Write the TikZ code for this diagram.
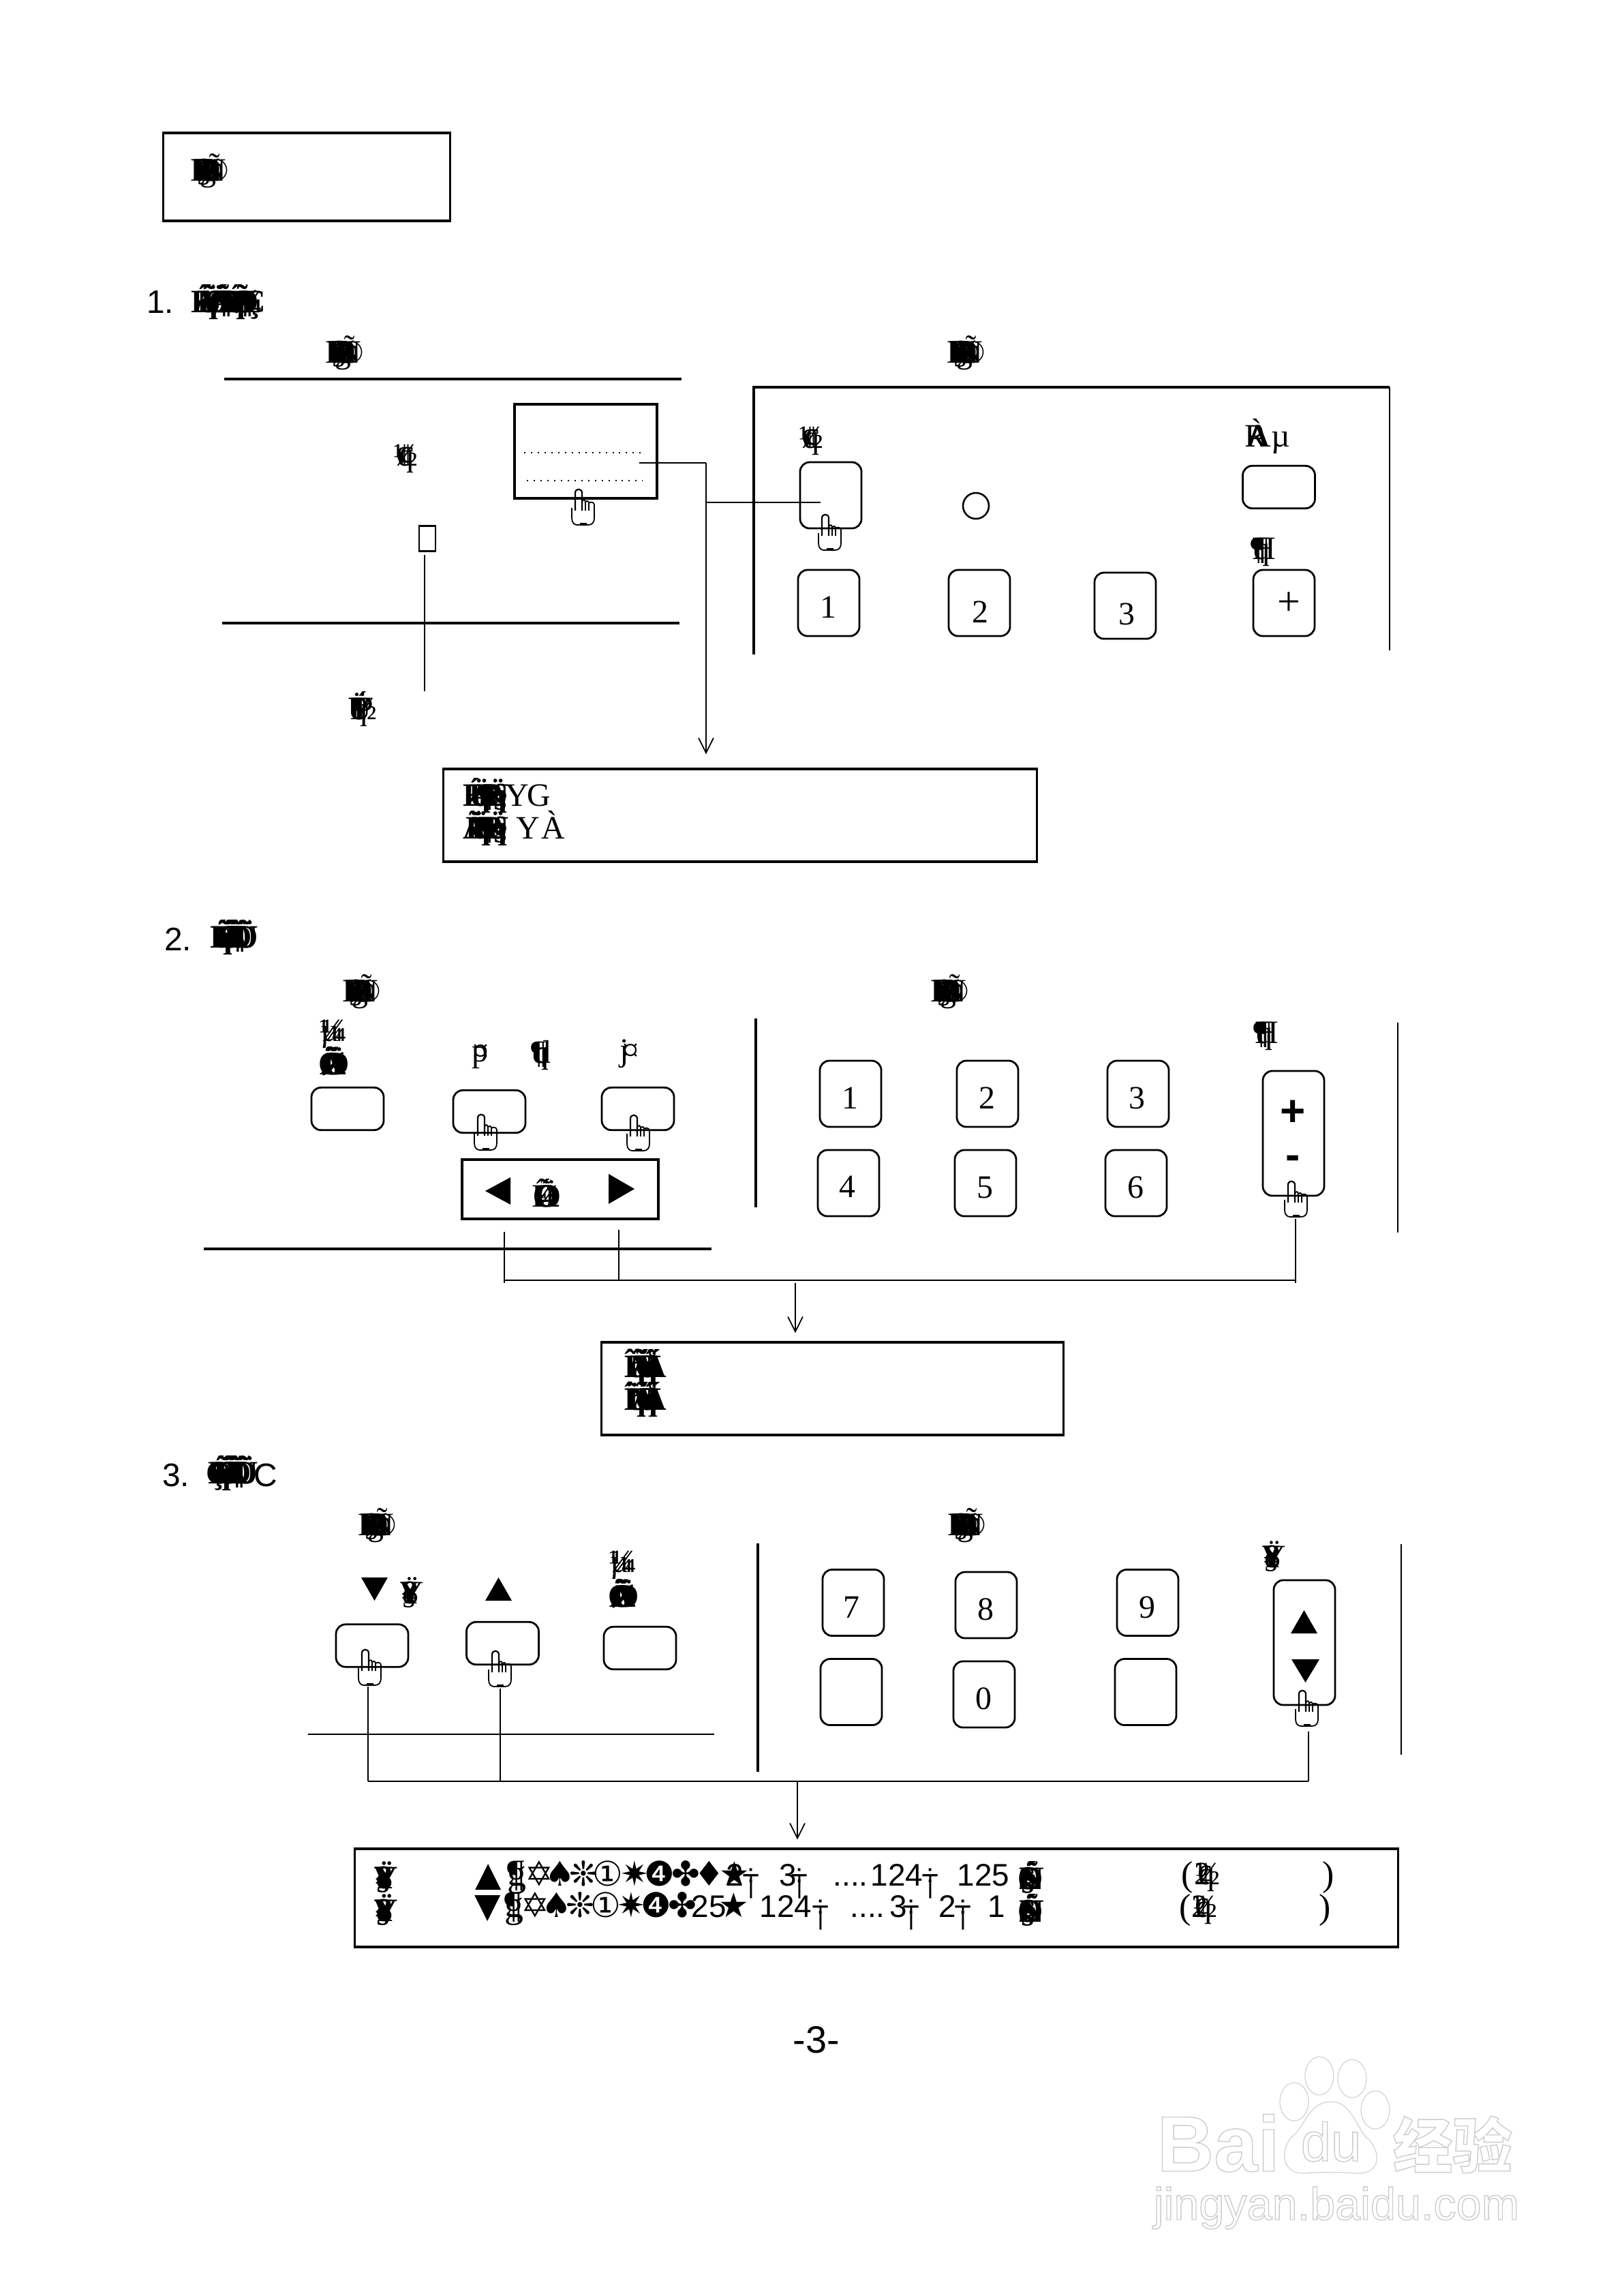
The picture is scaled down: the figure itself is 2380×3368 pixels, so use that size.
\documentclass[tikz,border=0pt]{standalone}
\usepackage{fontspec}
\setmainfont{Liberation Serif}
\setsansfont{Liberation Sans}
\newfontfamily\symfont{DejaVu Sans}
\newfontfamily\cjk{Noto Sans CJK SC}
\usetikzlibrary{arrows.meta,positioning}
\newcommand{\stack}[2]{\foreach \gl in {#2}{\makebox[0pt][l]{\gl}\kern#1}\kern 7pt}
\newcommand{\panelword}{\stack{.35pt}{E,B,R,P,D,¥,§,Ø,©,B,g,R,P,Ñ,©}}
\newcommand{\pairword}{\stack{.7pt}{½,¢,q,¢}}
\newcommand{\yenword}{\stack{.2pt}{Ÿ,¥,§,¥,8}}
\newcommand{\paraword}{\stack{.4pt}{¶,H,q,¶}}
\newcommand{\quarterword}{\stack{.6pt}{¼,µ,¼}}
\newcommand{\setword}{\stack{.3pt}{Õ,Ä,Ø,Ã,¼,½,Ö}}
\newcommand{\sepmark}{\makebox[0pt]{÷}\makebox[0pt]{\raisebox{-3pt}{\fontsize{9}{9}\selectfont|}}}
\newcommand{\fourdots}{....}
\newcommand{\outlined}[1]{\special{pdf:code q 1 Tr 0.35 w 0.8 G}#1\special{pdf:code Q}}

\begin{document}
\begin{tikzpicture}[x=0.0088235cm,y=-0.0088235cm,font=\fontsize{12}{14}\selectfont,
  line/.style={line width=0.85pt},
  thin line/.style={line width=0.5pt},
  conn/.style={line width=0.65pt},
  arr/.style={line width=0.45pt,-{Straight Barb[length=5.5pt,width=5.5pt]}},
  plainbox/.style={rectangle,draw,line width=0.8pt,inner sep=0pt},
  key/.style={rectangle,rounded corners=3.5pt,draw,line width=0.7pt,inner sep=0pt},
  numkey/.style={key,minimum width=0.794cm,minimum height=0.856cm},
  widekey/.style={key,minimum width=0.935cm,minimum height=0.55cm},
  rockkey/.style={key,minimum width=0.794cm,minimum height=1.615cm},
  word/.style={inner sep=0pt},
  blob/.style={inner sep=0pt,font=\fontsize{12}{14}\selectfont\bfseries},
  digit/.style={inner sep=0pt},
  sans/.style={inner sep=0pt,font=\fontsize{12}{14}\selectfont\sffamily},
  rowtext/.style={inner sep=0pt,anchor=base,font=\fontsize{11.5}{14}\selectfont\sffamily},
  rowsym/.style={inner sep=0pt,anchor=base,font=\fontsize{12.5}{14}\selectfont\symfont},
  tri/.style={fill=black},
  pics/hand/.style={code={
    \draw[line width=0.45pt] (-10,27)--(-10,42) .. controls (-10,49) and (-6,52) .. (-2,52)--(14,52)
      .. controls (20,52) and (23,48) .. (23,42)--(23,22);
    \draw[line width=0.55pt] (-5,31)--(-5,5) .. controls (-5,-2) and (5,-2) .. (5,5)--(5,31);
    \draw[line width=0.45pt] (5,18) .. controls (6,14) and (10,14) .. (10,19)--(10,31);
    \draw[line width=0.45pt] (10,19) .. controls (11,16) and (15,16) .. (15,20)--(15,31);
    \draw[line width=0.45pt] (15,20) .. controls (17,18) and (22,18) .. (23,22);
    \draw[line width=0.45pt] (2,50)--(12,50);
  }}]

  \useasboundingbox (0,0) rectangle (2380,3368);

  \node[plainbox,minimum width=3.706cm,minimum height=1.138cm] (titlebox) at (450,259.5) {};
  \node[word] (titleword) at (304,251) {\panelword};

  \node[sans] (numone) at (235,443) {1.};
  \node[blob,anchor=base] (headone) at (334,458) {\stack{1.1pt}{É,Á,Ñ,q,Ö,J,Ó,Ã,¶,B,B,É,q,Õ,Ø,¶,¼,Ç}};
  \node[word] (wordleft) at (502,518) {\panelword};
  \node[word] (wordright) at (1414,518) {\panelword};

  \draw[line] (329,556)--(1000,556);
  \draw[line] (326,914)--(997,914);
  \draw[line] (1106,960)--(1106,568)--(2039,568);
  \draw[conn] (2039,568)--(2039,954);

  \node[plainbox,minimum width=1.844cm,minimum height=1.218cm] (remote) at (859.5,662) {};
  \draw[line width=0.5pt,dotted] (769,664)--(940,664);
  \draw[line width=0.5pt,dotted] (773,705)--(943,705);
  \node[word] (pairleft) at (597,673) {\pairword};
  \node[plainbox,line width=0.6pt,minimum width=0.212cm,minimum height=0.326cm] (sensor) at (627,790) {};
  \coordinate (stemtop) at (623,814);
  \coordinate (stembot) at (623,1014);
  \draw[conn] (stemtop)--(stembot);
  \node[word] (wordlow) at (531,1040) {\stack{.4pt}{Ü,Ý,P,q,½,I,Ï,P}};

  \node[word] (pairright) at (1192,647) {\pairword};
  \node[numkey] (powerkey) at (1219,726.5) {};
  \node[circle,draw,line width=0.65pt,minimum size=0.335cm,inner sep=0pt] (lamp) at (1432,742) {};
  \node[widekey] (langkey) at (1876.5,714.5) {};
  \node[word] (langword) at (1860,640) {\stack{.4pt}{R,À,A}\kern 1.5pt µ};
  \node[word] (volword) at (1853,810) {\paraword};

  \node[numkey] (keyA) at (1216,884.5) {};
  \node[numkey] (keyB) at (1437,884.5) {};
  \node[numkey] (keyC) at (1651,888.5) {};
  \node[numkey] (keyD) at (1884,884.5) {};
  \node[digit] (digA) at (1215,891) {1};
  \node[digit] (digB) at (1438,898) {2};
  \node[digit] (digC) at (1653,901) {3};
  \node[digit,font=\fontsize{15}{15}\selectfont] (digD) at (1891,886) {+};

  \node[plainbox,minimum width=7.677cm,minimum height=1.2cm] (resultone) at (1086,1196) {};
  \node[blob,anchor=base] (resa) at (717,1182) {\stack{1.2pt}{É,Æ,Ü,q,¶,½,P,Ü,q,§}};
  \node[word,anchor=base] (resb) at (759,1182) {Y};
  \node[word,anchor=base] (resc) at (791,1182) {G};
  \node[blob,anchor=base] (resd) at (717,1230) {\stack{1.2pt}{Ã,Ë,Ä,q,¶,½,P,Ü,q,§}};
  \node[word,anchor=base] (rese) at (775,1230) {Y};
  \node[word,anchor=base] (resf) at (812,1230) {À};

  \coordinate (tapA) at (938,679);
  \coordinate (tapB) at (1036,679);
  \coordinate (tapC) at (1036,737);
  \coordinate (tapD) at (1204,737);
  \draw[conn] (tapA)--(tapB);
  \draw[conn] (tapC)--(tapD);
  \draw[arr,shorten >=5pt] (tapB)--(tapB |- resultone.north);

  \node[sans] (numtwo) at (261,1378) {2.};
  \node[blob,anchor=base] (headtwo) at (342,1390) {\stack{.75pt}{É,Ñ,q,Ó,Õ,Ä,J,Ã,Ö,¶,Ì,Õ,Ü}};
  \node[word] (wordsetl) at (527,1455) {\panelword};
  \node[word] (wordsetr) at (1390,1455) {\panelword};
  \node[word] (quartA) at (486,1517) {\quarterword};
  \node[blob] (setA) at (486,1557) {\setword};
  \node[word] (ptA) at (707,1550) {\stack{.2pt}{p,¤}};
  \node[word] (ptB) at (797,1548) {\stack{.6pt}{¶,q,d}};
  \node[word] (ptC) at (927,1546) {\stack{1pt}{j,¤}};
  \node[widekey] (keyset) at (510,1626.5) {};
  \node[widekey] (keyprev) at (718,1630.5) {};
  \node[widekey] (keynext) at (936,1626.5) {};

  \node[plainbox,minimum width=2.541cm,minimum height=0.768cm] (pagebar) at (822,1744.5) {};
  \fill[tri] (712,1747)--(749,1727)--(749,1767)--cycle;
  \fill[tri] (931,1744)--(893,1722)--(893,1766)--cycle;
  \node[word] (pageword) at (800,1750) {\stack{.5pt}{Ê,Ó,Õ,½,Ö,4}};

  \draw[line] (299,1832)--(1044,1832);
  \draw[line] (1109,1494)--(1109,1771);
  \draw[conn] (2051,1500)--(2051,1808);

  \node[numkey] (padA) at (1248,1604.5) {};
  \node[numkey] (padB) at (1449,1604.5) {};
  \node[numkey] (padC) at (1670,1604.5) {};
  \node[numkey] (padD) at (1245,1735.5) {};
  \node[numkey] (padE) at (1446,1735.5) {};
  \node[numkey] (padF) at (1667,1735.5) {};
  \node[digit] (padtA) at (1247,1611) {1};
  \node[digit] (padtB) at (1448,1611) {2};
  \node[digit] (padtC) at (1668,1611) {3};
  \node[digit] (padtD) at (1243,1741) {4};
  \node[digit] (padtE) at (1445,1742) {5};
  \node[digit] (padtF) at (1666,1742) {6};
  \node[word] (volsetr) at (1857,1520) {\paraword};
  \node[rockkey] (volrock) at (1898,1662.5) {};
  \node[digit,font=\fontsize{16}{16}\selectfont\bfseries\sffamily] (volplus) at (1897,1633) {+};
  \node[digit,font=\fontsize{16}{16}\selectfont\bfseries\sffamily] (volminus) at (1897,1705) {-};

  \coordinate (busL) at (740,1878);
  \coordinate (busM) at (908,1878);
  \coordinate (busR) at (1901,1878);
  \coordinate (tickL) at (740,1807);
  \coordinate (tickM) at (908,1804);
  \coordinate (tickR) at (1901,1788);
  \coordinate (busdrop) at (1167,1882);
  \draw[conn] (busL)--(busR);
  \draw[conn] (tickL)--(740,1882);
  \draw[conn] (tickM)--(busM);
  \draw[thin line] (tickR)--(1901,1882);

  \node[plainbox,minimum width=5.974cm,minimum height=1.2cm] (resulttwo) at (1221.5,2037) {};
  \node[blob,anchor=base] (resg) at (945,2020) {\stack{.7pt}{Î,Â,q,Ñ,Á,J,Ó,K,q,Å,Á}};
  \node[blob,anchor=base] (resh) at (945,2068) {\stack{.7pt}{Î,Ï,q,Ñ,Á,J,Ó,K,q,Å,Á}};
  \draw[arr,shorten >=3pt] (busdrop)--(busdrop |- resulttwo.north);

  \node[sans] (numthree) at (258,2164) {3.};
  \node[blob,anchor=base] (headthree) at (339,2176) {\stack{.8pt}{Ç,É,Ñ,q,Ó,Õ,Ä,J,Ã,Ö,¶,Ì,Õ,Ü}};
  \node[sans] (headc) at (390,2164) {C};
  \node[word] (wordthrl) at (550,2238) {\panelword};
  \node[word] (wordthrr) at (1415,2238) {\panelword};
  \fill[tri] (530,2314)--(569,2314)--(549.5,2348)--cycle;
  \node[word] (yenA) at (603,2336) {\yenword};
  \fill[tri] (712,2348)--(751,2348)--(731.5,2314)--cycle;
  \node[word] (quartB) at (911,2296) {\quarterword};
  \node[blob] (setB) at (911,2338) {\setword};
  \node[widekey] (keydown) at (546,2414) {};
  \node[widekey] (keyup) at (737.5,2410.5) {};
  \node[widekey] (keyset2) at (939,2417.5) {};

  \draw[thin line] (452,2544)--(1048,2544);
  \draw[line] (1112,2264)--(1112,2599);
  \draw[conn] (2056,2265)--(2056,2574);

  \node[numkey] (seven) at (1252,2351) {};
  \node[numkey] (eight) at (1447,2354.5) {};
  \node[numkey] (nine) at (1684,2351) {};
  \node[numkey] (blankA) at (1249,2482) {};
  \node[numkey] (zero) at (1444,2485.5) {};
  \node[numkey] (blankB) at (1681,2482) {};
  \node[digit] (tseven) at (1249,2358) {7};
  \node[digit] (teight) at (1446,2361) {8};
  \node[digit] (tnine) at (1683,2358) {9};
  \node[digit] (tzero) at (1443,2492) {0};
  \node[word] (yenB) at (1868,2283) {\yenword};
  \node[rockkey] (stepkey) at (1914,2409.5) {};
  \fill[tri] (1894,2396)--(1933,2396)--(1913.5,2362)--cycle;
  \fill[tri] (1895,2434)--(1936,2434)--(1915.5,2468)--cycle;

  \coordinate (stepL) at (540,2474);
  \coordinate (stepM) at (734,2477);
  \coordinate (stepR) at (1920,2540);
  \coordinate (jointL) at (540,2613);
  \coordinate (jointM) at (734,2613);
  \coordinate (jointR) at (1920,2613);
  \coordinate (jointdrop) at (1170,2613);
  \draw[conn] (jointL)--(jointR);
  \draw[thin line] (stepL)--(jointL);
  \draw[thin line] (stepM)--(jointM);
  \draw[thin line] (stepR)--(jointR);

  \node[plainbox,minimum width=13.5cm,minimum height=1.27cm] (resultthree) at (1286,2784) {};
  \draw[arr,shorten >=3pt] (jointdrop)--(jointdrop |- resultthree.north);

  \node[blob] (rowla) at (565,2754) {\yenword};
  \node[blob] (rowlb) at (565,2802) {\yenword};
  \foreach \x/\t in {717/▲,791/✡,822/♠,856/❊,892/①,931/✷,968/❹,1006/✤,1041/♦,1078/★} {
    \node[rowsym] (rowa\x) at (\x,2766) {\t};
  }
  \foreach \x/\t in {716/▼,785/✡,817/♠,851/❊,889/①,926/✷,963/❹,1001/✤,1077/★} {
    \node[rowsym] (rowb\x) at (\x,2812) {\t};
  }
  \node[word,anchor=base,font=\fontsize{14}{15}\selectfont] (rowag) at (758,2766) {\stack{0pt}{¶,g}};
  \node[word,anchor=base,font=\fontsize{14}{15}\selectfont] (rowbg) at (754,2812) {\stack{0pt}{¶,g}};
  \foreach \x/\t in {1078/2,1156/3,1248/\fourdots,1316/124,1443/125} {
    \node[rowtext] (rowc\x) at (\x,2766) {\t};
  }
  \foreach \x/\t in {1040/25,1153/124,1273/\fourdots,1318/3,1390/2,1462/1} {
    \node[rowtext] (rowd\x) at (\x,2812) {\t};
  }
  \foreach \x in {1102,1173,1365} {
    \node[rowtext] (sepa\x) at (\x,2766) {\sepmark};
  }
  \foreach \x in {1204,1337,1413} {
    \node[rowtext] (sepb\x) at (\x,2812) {\sepmark};
  }
  \node[blob] (rowea) at (1510,2754) {\stack{.3pt}{Ó,S,É,§,Ñ}};
  \node[blob] (roweb) at (1510,2802) {\stack{.3pt}{Ó,S,É,§,Ñ}};
  \node[word,font=\fontsize{13}{14}\selectfont] (parAl) at (1742,2754) {(};
  \node[word] (parAm) at (1770,2754) {\stack{.5pt}{2,½,¢,q}};
  \node[word,font=\fontsize{13}{14}\selectfont] (parAr) at (1949,2754) {)};
  \node[word,font=\fontsize{13}{14}\selectfont] (parBl) at (1739,2802) {(};
  \node[word] (parBm) at (1766,2802) {\stack{.5pt}{2,½,¢,q}};
  \node[word,font=\fontsize{13}{14}\selectfont] (parBr) at (1944,2802) {)};

  \node[sans,font=\fontsize{14}{14}\selectfont\sffamily] (pagenum) at (1198,2992) {-3-};

  \foreach \n/\x/\y in {a/849/718,b/1211/755,c/706/1635,d/930/1636,e/1895/1733,f/536/2420,g/727/2422,h/1911/2480} {
    \pic (hand\n) at (\x,\y) {hand};
  }

  \draw[gray!35,line width=0.3pt] (1899,3083) ellipse [x radius=21,y radius=28];
  \draw[gray!35,line width=0.3pt] (1936,3045) ellipse [x radius=21,y radius=28];
  \draw[gray!35,line width=0.3pt] (1984,3049) ellipse [x radius=21,y radius=28];
  \draw[gray!35,line width=0.3pt] (2018,3095) ellipse [x radius=21,y radius=28];
  \draw[gray!35,line width=0.3pt] (1953,3083) .. controls (1985,3083) and (1990,3125) .. (2010,3140)
    .. controls (2030,3165) and (2020,3190) .. (1990,3188) .. controls (1970,3186) and (1935,3186) .. (1915,3188)
    .. controls (1885,3190) and (1875,3160) .. (1895,3135) .. controls (1915,3120) and (1920,3083) .. (1953,3083);
  \node[inner sep=0pt,anchor=base,font=\fontsize{20}{20}\selectfont\sffamily] (wmdu) at (1953,3170) {\outlined{du}};
  \node[inner sep=0pt,anchor=base west,font=\fontsize{29}{29}\selectfont\bfseries\sffamily] (wmbai) at (1697,3185) {\outlined{Bai}};
  \node[inner sep=0pt,anchor=base west,font=\fontsize{22}{22}\selectfont\bfseries\cjk] (wmcn) at (2043,3180) {\outlined{经验}};
  \node[inner sep=0pt,anchor=base west,font=\fontsize{16.7}{18}\selectfont\sffamily] (wmurl) at (1692,3256) {\outlined{jingyan.baidu.com}};
\end{tikzpicture}
\end{document}
